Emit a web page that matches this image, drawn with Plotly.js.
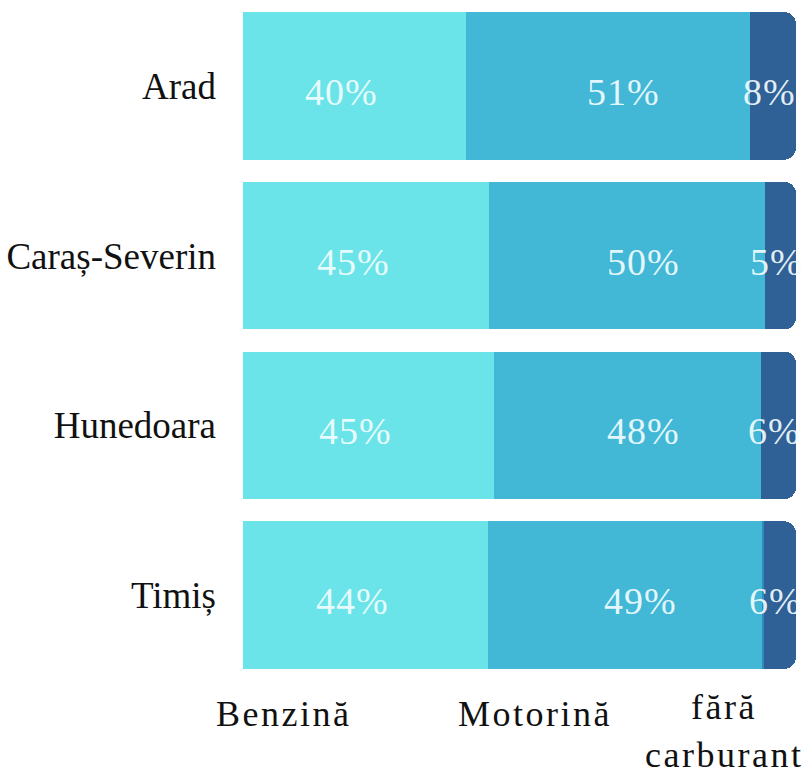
<!DOCTYPE html>
<html>
<head>
<meta charset="utf-8">
<script src="https://cdn.plot.ly/plotly-3.0.1.min.js"></script>
<style>
html,body{margin:0;padding:0;background:#fff;}
#chart{width:802px;height:773px;}
</style>
</head>
<body>
<div id="chart"></div>
<script>
const categories = ['Arad', 'Caraș-Severin', 'Hunedoara', 'Timiș'];
const seriesNames = ['Benzină', 'Motorină', 'fără<br>carburant'];
const benzina = [40.3, 44.5, 45.4, 44.3];
const motorina = [51.4, 49.9, 48.3, 49.5];
const altele = [0, 0, 0, 0.4];
const faraCarburant = [8.3, 5.6, 6.3, 5.8];
const benzinaLabels = ['40%', '45%', '45%', '44%'];
const motorinaLabels = ['51%', '50%', '48%', '49%'];
const faraLabels = ['8%', '5%', '6%', '6%'];

const colors = ['#6ae4e8', '#42b8d6', '#2e8cc0', '#2f6096'];
const serif = 'Liberation Serif';

function barTrace(name, vals, color) {
  return {
    type: 'bar', orientation: 'h', name: name,
    y: categories, x: vals,
    marker: {color: color, line: {width: 0}},
    hoverinfo: 'none'
  };
}

const traces = [
  barTrace('Benzină', benzina, colors[0]),
  barTrace('Motorină', motorina, colors[1]),
  barTrace('Altele', altele, colors[2]),
  barTrace('fără carburant', faraCarburant, colors[3])
];

const annotations = [];
const shifts = [-13, 16, -4];
categories.forEach((c, i) => {
  const starts = [0, benzina[i], benzina[i] + motorina[i] + altele[i]];
  const vals = [benzina[i], motorina[i], faraCarburant[i]];
  const labs = [benzinaLabels[i], motorinaLabels[i], faraLabels[i]];
  for (let k = 0; k < 3; k++) {
    annotations.push({
      x: starts[k] + vals[k] / 2, y: c, xref: 'x', yref: 'y',
      text: '<span style="letter-spacing:1px">' + labs[k] + '</span>',
      showarrow: false, xshift: shifts[k], yshift: -6,
      font: {family: serif, size: 38, color: 'rgba(244,253,255,0.92)'}
    });
  }
});

// series labels under the bars (each line placed separately for line spacing)
const legendX = [0.073, 0.528, 0.87];
const lineShift = [[-12], [-12], [-5, -53]];
seriesNames.forEach((n, k) => {
  n.split('<br>').forEach((line, j) => {
    annotations.push({
      x: legendX[k], y: 0, xref: 'paper', yref: 'paper',
      xanchor: 'center', yanchor: 'top', yshift: lineShift[k][j],
      text: '<span style="letter-spacing:2.5px">' + line + '</span>',
      showarrow: false,
      font: {family: serif, size: 36, color: '#111'}
    });
  });
});

const layout = {
  width: 802, height: 773,
  margin: {l: 243, r: 6, t: 1, b: 93},
  barmode: 'stack', bargap: 0.13, barcornerradius: 12,
  showlegend: false,
  paper_bgcolor: '#fff', plot_bgcolor: '#fff',
  xaxis: {range: [0, 100], showgrid: false, zeroline: false, showticklabels: false, showline: false},
  yaxis: {autorange: 'reversed', showgrid: false, zeroline: false, showline: false,
          ticks: '', ticklabelstandoff: 26,
          tickfont: {family: serif, size: 37, color: '#111'}},
  annotations: annotations
};

Plotly.newPlot('chart', traces, layout, {displayModeBar: false, staticPlot: true});
</script>
</body>
</html>
